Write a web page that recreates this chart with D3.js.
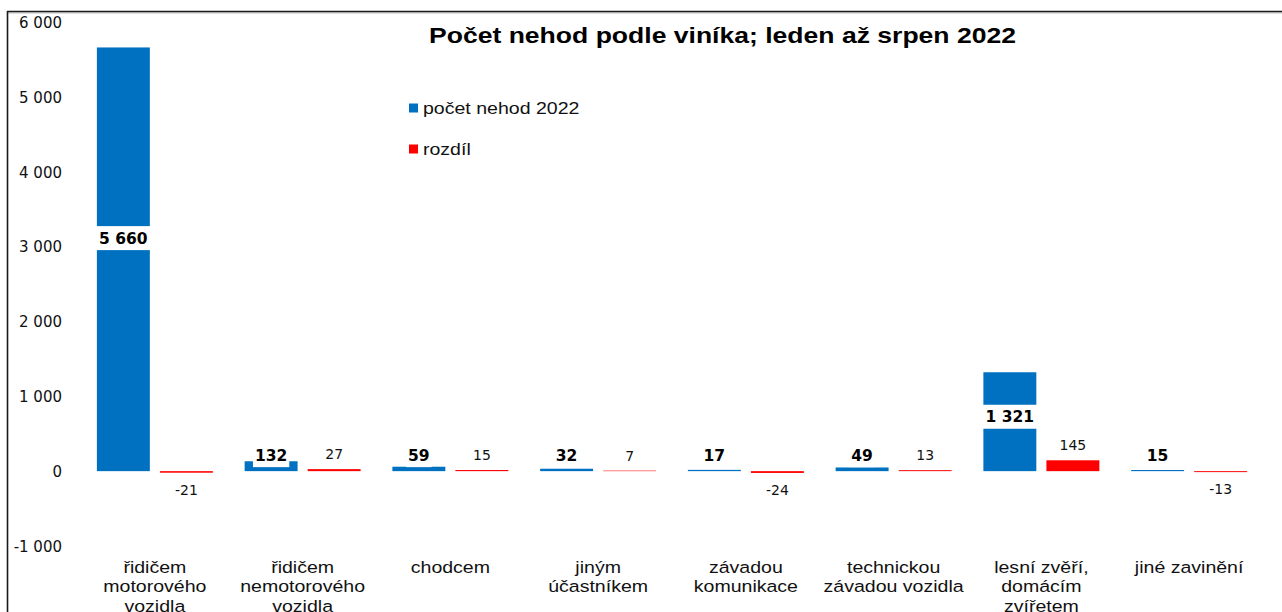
<!DOCTYPE html>
<html>
<head>
<meta charset="utf-8">
<script src="https://cdn.jsdelivr.net/npm/d3@7"></script>
<style>
  html, body { margin: 0; padding: 0; background: #fff; }
  svg { display: block; }
</style>
</head>
<body>
<svg id="chart" width="1282" height="612"></svg>
<script>
'use strict';

// data (leden až srpen 2022)
const categories = [
  'řidičem\nmotorového\nvozidla',
  'řidičem\nnemotorového\nvozidla',
  'chodcem',
  'jiným\núčastníkem',
  'závadou\nkomunikace',
  'technickou\nzávadou vozidla',
  'lesní zvěří,\ndomácím\nzvířetem',
  'jiné zavinění'
];
const count2022 = [5660, 132, 59, 32, 17, 49, 1321, 15];
const diff = [-21, 27, 15, 7, -24, 13, 145, -13];
const seriesNames = ['počet nehod 2022', 'rozdíl'];
const yTicks = [-1000, 0, 1000, 2000, 3000, 4000, 5000, 6000];
const title = 'Počet nehod podle viníka; leden až srpen 2022';

const BLUE = '#0070C0', RED = '#FF0000';
const ARIAL = '"Liberation Sans", Arial, sans-serif';
const VERD = '"DejaVu Sans", Verdana, sans-serif';
const SX = 1.15; // the source image is a bit wide

const W = 1282, H = 612;
const svg = d3.select('#chart');

const loc = d3.formatLocale({ decimal: ',', thousands: '\u00a0', grouping: [3], currency: ['', ''], minus: '-' });
const fmt = loc.format(',d');

const x0 = d3.scaleBand().domain(d3.range(categories.length)).range([81, 1263])
  .paddingInner(0.215).paddingOuter(0.1075);
const x1 = d3.scaleBand().domain([0, 1]).range([0, x0.bandwidth()]).paddingInner(0.16);
const y = d3.scaleLinear().domain([-1000, 6000]).range([546, 22]);

// frame (top + left edge)
svg.append('line').attr('x1', 7).attr('x2', W).attr('y1', 13).attr('y2', 13)
  .attr('stroke', '#bbb').attr('stroke-width', 1);
svg.append('line').attr('x1', 7).attr('x2', W).attr('y1', 11.5).attr('y2', 11.5)
  .attr('stroke', '#1a1a1a').attr('stroke-width', 1.6);
svg.append('line').attr('x1', 7.5).attr('x2', 7.5).attr('y1', 11).attr('y2', H)
  .attr('stroke', '#1a1a1a').attr('stroke-width', 1.6);

// title
svg.append('text')
  .attr('x', 722.5).attr('y', 43)
  .attr('text-anchor', 'middle')
  .attr('font-family', ARIAL).attr('font-weight', 'bold').attr('font-size', 21.5)
  .attr('textLength', 587).attr('lengthAdjust', 'spacingAndGlyphs')
  .attr('fill', '#000')
  .text(title);

// y axis
const yAxis = d3.axisLeft(y).tickValues(yTicks).tickSize(0).tickPadding(0).tickFormat(fmt);
const ga = svg.append('g').attr('transform', 'translate(62,0)').call(yAxis);
ga.select('.domain').remove();
ga.selectAll('text')
  .attr('font-family', VERD).attr('font-size', 15).attr('fill', '#111')
  .attr('dy', '0.36em');

// bars
const series = [count2022, diff];
const colors = [BLUE, RED];
series.forEach((vals, s) => {
  svg.append('g').selectAll('rect').data(vals).join('rect')
    .attr('x', (d, i) => x0(i) + x1(s))
    .attr('width', x1.bandwidth())
    .attr('y', d => y(Math.max(0, d)))
    .attr('height', d => Math.abs(y(d) - y(0)))
    .attr('fill', colors[s]);
});

// count labels (bold, white box)
const gl = svg.append('g');
count2022.forEach((v, i) => {
  const cx = x0(i) + x1(0) + x1.bandwidth() / 2;
  const big = (y(0) - y(v)) > 60;
  const cy = big ? y(v * 0.55) : y(0) - 16;
  const g = gl.append('g');
  const box = g.append('rect').attr('fill', '#fff');
  const t = g.append('text')
    .attr('x', cx).attr('y', cy).attr('dy', '0.36em')
    .attr('text-anchor', 'middle')
    .attr('font-family', VERD).attr('font-weight', 'bold').attr('font-size', 15.5)
    .attr('fill', '#000')
    .text(fmt(v));
  const bw = t.node().getComputedTextLength() + (big ? 10 : 4);
  box.attr('x', cx - bw / 2).attr('y', cy - 12).attr('width', bw).attr('height', 24);
});

// diff labels
svg.append('g').selectAll('text').data(diff).join('text')
  .attr('x', (d, i) => x0(i) + x1(1) + x1.bandwidth() / 2)
  .attr('y', d => d >= 0 ? y(d) - 15 : y(d) + 17)
  .attr('dy', '0.36em')
  .attr('text-anchor', 'middle')
  .attr('font-family', VERD).attr('font-size', 14).attr('fill', '#111')
  .text(d => fmt(d));

// category labels
categories.forEach((c, i) => {
  const cx = x0(i) + x0.bandwidth() / 2;
  c.split('\n').forEach((line, k) => {
    svg.append('text')
      .attr('transform', `translate(${cx},${567 + k * 19.5}) scale(${SX},1)`)
      .attr('text-anchor', 'middle').attr('dy', '0.35em')
      .attr('font-family', ARIAL).attr('font-size', 17).attr('fill', '#111')
      .text(line);
  });
});

// legend
seriesNames.forEach((name, s) => {
  const ly = 108 + s * 41;
  svg.append('rect').attr('x', 409).attr('y', ly - 4.5).attr('width', 9).attr('height', 9)
    .attr('fill', colors[s]);
  svg.append('text')
    .attr('transform', `translate(423,${ly}) scale(${SX},1)`)
    .attr('dy', '0.35em')
    .attr('font-family', ARIAL).attr('font-size', 17).attr('fill', '#111')
    .text(name);
});
</script>
</body>
</html>
